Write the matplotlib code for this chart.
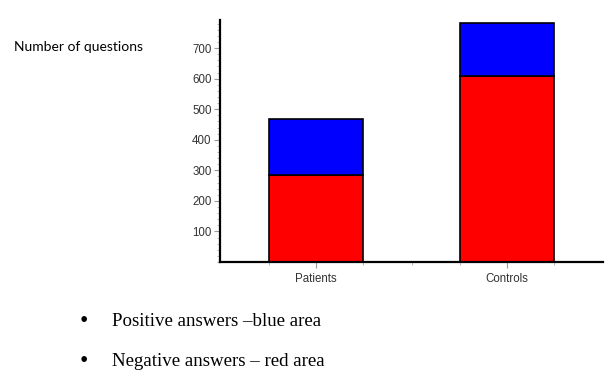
import matplotlib
matplotlib.use("Agg")
import matplotlib.pyplot as plt
from matplotlib.ticker import MultipleLocator, FixedLocator

categories = ["Patients", "Controls"]
negative = [285, 609]   # red area
positive = [182, 174]   # blue area (stacked on top)
yticks = [100, 200, 300, 400, 500, 600, 700]

fig = plt.figure(figsize=(6.08, 3.90), dpi=100)
ax = fig.add_axes([220/608, 1-262/390, 383/608, 242/390])

x = list(range(len(categories)))
w = 0.49
ax.bar(x, negative, width=w, color="#ff0000", edgecolor="black", linewidth=1.2)
ax.bar(x, positive, width=w, bottom=negative, color="#0000ff", edgecolor="black", linewidth=1.2)

ax.set_xlim(-0.5, 1.5)
ax.set_ylim(0, 792)
ax.set_yticks(yticks)
ax.yaxis.set_minor_locator(MultipleLocator(20))
ax.set_xticks(x)
ax.set_xticklabels(categories)
ax.xaxis.set_minor_locator(FixedLocator([-w/2, w/2, 0.5, 1-w/2, 1+w/2]))

for s in ["top", "right"]:
    ax.spines[s].set_visible(False)
for s in ["left", "bottom"]:
    ax.spines[s].set_linewidth(1.6)
    ax.spines[s].set_color("black")

ax.tick_params(axis="both", which="major", length=4, width=0.8, color="#999999",
               labelsize=8.3, labelcolor="#333333", pad=2, labelfontfamily="Liberation Sans")
ax.tick_params(axis="both", which="minor", length=2, width=0.6, color="#aaaaaa")
ax.tick_params(axis="x", which="major", pad=4)

fig.text(14/608, 1-47/390, "Number of questions", fontsize=10, family="Lato",
         va="center", ha="left", color="black")

bullets = ["Positive answers \u2013blue area", "Negative answers \u2013 red area"]
for i, t in enumerate(bullets):
    yy = 1 - (321 + 40*i)/390
    fig.text(80/608, yy, "\u2022", fontsize=17, family="Liberation Serif", va="center", ha="left")
    fig.text(112/608, yy, t, fontsize=13.6, family="Liberation Serif", va="center", ha="left")

fig.savefig("out.png", dpi=100)
